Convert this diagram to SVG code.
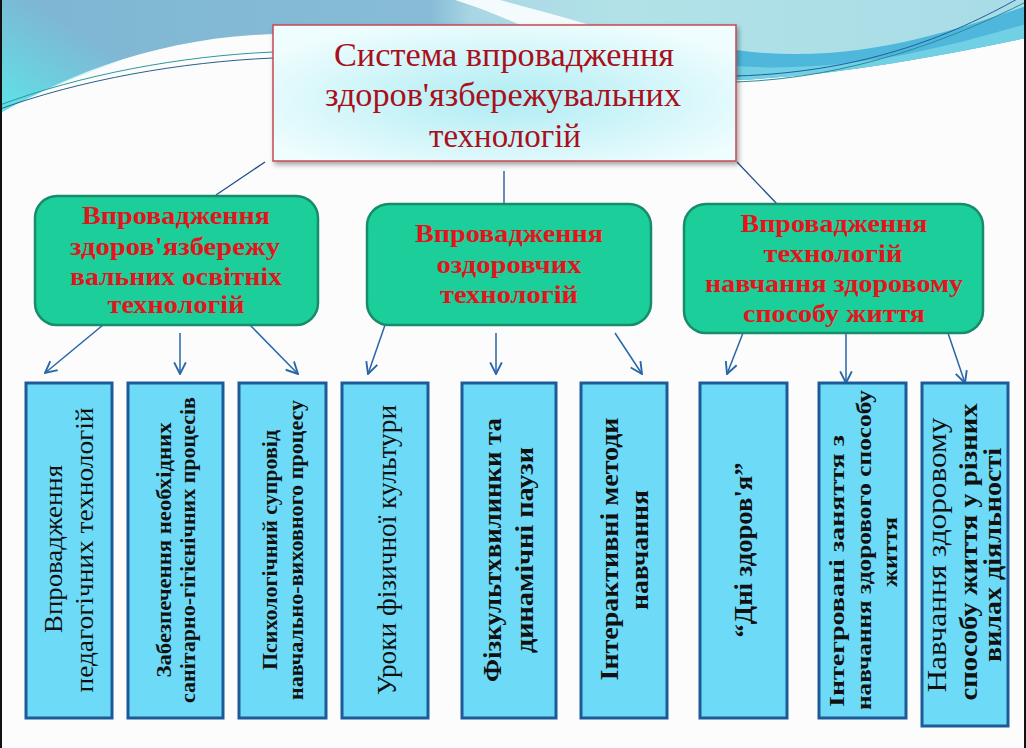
<svg xmlns="http://www.w3.org/2000/svg" width="1026" height="748" viewBox="0 0 1026 748">
<defs>
<linearGradient id="topband" gradientUnits="userSpaceOnUse" x1="0" y1="0" x2="1026" y2="0">
<stop offset="0" stop-color="#7db6d3"/>
<stop offset="0.42" stop-color="#88bcd6"/>
<stop offset="0.46" stop-color="#a9d6e4"/>
<stop offset="0.6" stop-color="#b2e2e8"/>
<stop offset="1" stop-color="#a8dce6"/>
</linearGradient>
<linearGradient id="leftfade" gradientUnits="userSpaceOnUse" x1="60" y1="20" x2="0" y2="113">
<stop offset="0" stop-color="#5ee4e8" stop-opacity="0"/>
<stop offset="1" stop-color="#5ee4e8"/>
</linearGradient>
<radialGradient id="titlefill" cx="0.5" cy="0.55" r="0.6">
<stop offset="0" stop-color="#aeecf3"/>
<stop offset="1" stop-color="#effdfe"/>
</radialGradient>
<filter id="shadow" x="-5%" y="-5%" width="115%" height="120%">
<feDropShadow dx="2" dy="3" stdDeviation="2.5" flood-color="#000" flood-opacity="0.35"/>
</filter>
<marker id="arr" markerUnits="userSpaceOnUse" markerWidth="14" markerHeight="14" viewBox="0 0 12 12" refX="11" refY="6" orient="auto">
<path d="M1,1 L11,6 L1,11" fill="none" stroke="#2866a6" stroke-width="1.6"/>
</marker>
<style>
.title{font-family:"Liberation Serif","Times New Roman",serif;font-size:34px;fill:#a8101c;text-anchor:middle}
.gbox{fill:#1ccf9a;stroke:#178c6c;stroke-width:2.5}
.gtxt{font-family:"Liberation Serif","Times New Roman",serif;font-size:26px;font-weight:bold;fill:#e3141c;text-anchor:middle}
.bbox{fill:#6ddbf8;stroke:#1d5a98;stroke-width:3}
.btxt{font-family:"Liberation Serif","Times New Roman",serif;fill:#111;text-anchor:middle}
.b{font-weight:bold}
.link{stroke:#1f4f8a;stroke-width:1.3;fill:none}
.arrow{stroke:#2866a6;stroke-width:1.5;fill:none;marker-end:url(#arr)}
</style>
</defs>

<g id="background">
<rect x="0" y="0" width="1026" height="748" fill="#fcfcfc"/>
<path d="M0,0 H1026 V38 C930,58 830,76 736,80 L736,25 L273,25 L273,34 C150,38 60,80 0,113 Z" fill="url(#topband)"/>
<path d="M0,0 H300 V30 C160,38 60,80 0,113 Z" fill="url(#leftfade)"/>
<path d="M455,0 L500,0 C530,8 560,16 590,25 L520,25 C500,16 480,8 455,0 Z" fill="#f4fbfc"/>
<path d="M736,50 C850,66 950,32 1026,6 V38 C930,58 830,76 736,80 Z" fill="#4fb7dc"/>
<path d="M736,66 C850,74 950,46 1026,24 V38 C930,58 830,76 736,80 Z" fill="#72d0e4"/>
<path d="M736,82 C850,78 950,40 1026,2" fill="none" stroke="#2a8c96" stroke-width="1"/>
<path d="M736,76 C870,72 960,32 1026,-6" fill="none" stroke="#1f5f9a" stroke-width="1"/>
<path d="M0,105 C80,75 180,56 273,52" fill="none" stroke="#2a9a9a" stroke-width="1"/>
<path d="M0,109 C80,80 180,62 273,58" fill="none" stroke="#2a5f8a" stroke-width="1"/>
<rect x="0" y="0" width="2" height="748" fill="#111"/>
<rect x="1024" y="0" width="2" height="748" fill="#111"/>
</g>

<g id="connectors">
<line class="link" x1="265" y1="162" x2="216" y2="195"/>
<line class="link" x1="504" y1="171" x2="504" y2="204"/>
<line class="link" x1="737" y1="162" x2="777" y2="204"/>
<line class="arrow" x1="103" y1="325" x2="45" y2="373"/>
<line class="arrow" x1="180" y1="333" x2="180" y2="374"/>
<line class="arrow" x1="250" y1="325" x2="298" y2="374"/>
<line class="arrow" x1="385" y1="325" x2="368" y2="374"/>
<line class="arrow" x1="496" y1="333" x2="496" y2="374"/>
<line class="arrow" x1="615" y1="333" x2="642" y2="374"/>
<line class="arrow" x1="743" y1="333" x2="727" y2="374"/>
<line class="arrow" x1="846" y1="333" x2="846" y2="383"/>
<line class="arrow" x1="948" y1="333" x2="965" y2="383"/>
</g>

<g id="title">
<rect x="273" y="25" width="463" height="136" fill="url(#titlefill)" stroke="#c44a56" stroke-width="1.5" filter="url(#shadow)"/>
<text class="title" x="504" y="66" textLength="340" lengthAdjust="spacingAndGlyphs">Система впровадження</text>
<text class="title" x="503" y="106" textLength="356" lengthAdjust="spacingAndGlyphs">здоров'язбережувальних</text>
<text class="title" x="505" y="147" textLength="152" lengthAdjust="spacingAndGlyphs">технологій</text>
</g>

<g id="green1">
<rect class="gbox" x="35" y="196" width="283" height="129" rx="22"/>
<text class="gtxt" x="176" y="224" textLength="188" lengthAdjust="spacingAndGlyphs">Впровадження</text>
<text class="gtxt" x="175" y="255" textLength="210" lengthAdjust="spacingAndGlyphs">здоров'язбережу</text>
<text class="gtxt" x="176" y="285" textLength="212" lengthAdjust="spacingAndGlyphs">вальних освітніх</text>
<text class="gtxt" x="176" y="313" textLength="137" lengthAdjust="spacingAndGlyphs">технологій</text>
</g>

<g id="green2">
<rect class="gbox" x="367" y="204" width="284" height="121" rx="22"/>
<text class="gtxt" x="509" y="242" textLength="188" lengthAdjust="spacingAndGlyphs">Впровадження</text>
<text class="gtxt" x="509" y="273" textLength="145" lengthAdjust="spacingAndGlyphs">оздоровчих</text>
<text class="gtxt" x="509" y="303" textLength="138" lengthAdjust="spacingAndGlyphs">технологій</text>
</g>

<g id="green3">
<rect class="gbox" x="684" y="204" width="299" height="129" rx="22"/>
<text class="gtxt" x="834" y="232" textLength="187" lengthAdjust="spacingAndGlyphs">Впровадження</text>
<text class="gtxt" x="833" y="262" textLength="139" lengthAdjust="spacingAndGlyphs">технологій</text>
<text class="gtxt" x="834" y="292" textLength="258" lengthAdjust="spacingAndGlyphs">навчання здоровому</text>
<text class="gtxt" x="834" y="322" textLength="182" lengthAdjust="spacingAndGlyphs">способу життя</text>
</g>

<g id="boxA">
<rect class="bbox" x="26" y="383" width="86" height="335"/>
<text class="btxt" font-size="26" transform="translate(62,549) rotate(-90)" textLength="168" lengthAdjust="spacingAndGlyphs">Впровадження</text>
<text class="btxt" font-size="26" transform="translate(93,550) rotate(-90)" textLength="285" lengthAdjust="spacingAndGlyphs">педагогічних технологій</text>
</g>

<g id="boxB">
<rect class="bbox" x="128" y="383" width="95" height="335"/>
<text class="btxt b" font-size="21" transform="translate(171,550) rotate(-90)" textLength="255" lengthAdjust="spacingAndGlyphs">Забезпечення необхідних</text>
<text class="btxt b" font-size="21" transform="translate(195,550) rotate(-90)" textLength="306" lengthAdjust="spacingAndGlyphs">санітарно-гігієнічних процесів</text>
</g>

<g id="boxC">
<rect class="bbox" x="239" y="383" width="87" height="335"/>
<text class="btxt b" font-size="21" transform="translate(277,550) rotate(-90)" textLength="240" lengthAdjust="spacingAndGlyphs">Психологічний супровід</text>
<text class="btxt b" font-size="21" transform="translate(303,550) rotate(-90)" textLength="300" lengthAdjust="spacingAndGlyphs">навчально-виховного процесу</text>
</g>

<g id="boxD">
<rect class="bbox" x="342" y="383" width="86" height="335"/>
<text class="btxt" font-size="27" transform="translate(396,550) rotate(-90)" textLength="290" lengthAdjust="spacingAndGlyphs">Уроки фізичної культури</text>
</g>

<g id="boxE">
<rect class="bbox" x="462" y="383" width="94" height="335"/>
<text class="btxt b" font-size="25" transform="translate(501,550) rotate(-90)" textLength="264" lengthAdjust="spacingAndGlyphs">Фізкультхвилинки та</text>
<text class="btxt b" font-size="25" transform="translate(533,550) rotate(-90)" textLength="206" lengthAdjust="spacingAndGlyphs">динамічні паузи</text>
</g>

<g id="boxF">
<rect class="bbox" x="581" y="383" width="86" height="335"/>
<text class="btxt b" font-size="25" transform="translate(618,549) rotate(-90)" textLength="263" lengthAdjust="spacingAndGlyphs">Інтерактивні методи</text>
<text class="btxt b" font-size="25" transform="translate(648,550) rotate(-90)" textLength="120" lengthAdjust="spacingAndGlyphs">навчання</text>
</g>

<g id="boxG">
<rect class="bbox" x="700" y="383" width="87" height="335"/>
<text class="btxt b" font-size="25" transform="translate(752,550) rotate(-90)" textLength="175" lengthAdjust="spacingAndGlyphs">“Дні здоров'я”</text>
</g>

<g id="boxH">
<rect class="bbox" x="819" y="383" width="87" height="335"/>
<text class="btxt b" font-size="22" transform="translate(844,571) rotate(-90)" textLength="272" lengthAdjust="spacingAndGlyphs">Інтегровані заняття з</text>
<text class="btxt b" font-size="22" transform="translate(871,550) rotate(-90)" textLength="320" lengthAdjust="spacingAndGlyphs">навчання здорового способу</text>
<text class="btxt b" font-size="22" transform="translate(897,552) rotate(-90)" textLength="70" lengthAdjust="spacingAndGlyphs">життя</text>
</g>

<g id="boxI">
<rect class="bbox" x="922" y="383" width="86" height="343"/>
<text class="btxt" font-size="27" transform="translate(946,555) rotate(-90)" textLength="275" lengthAdjust="spacingAndGlyphs">Навчання здоровому</text>
<text class="btxt b" font-size="25" transform="translate(977,552) rotate(-90)" textLength="297" lengthAdjust="spacingAndGlyphs">способу  життя у різних</text>
<text class="btxt b" font-size="25" transform="translate(1001,555) rotate(-90)" textLength="214" lengthAdjust="spacingAndGlyphs">вилах діяльності</text>
</g>
</svg>
